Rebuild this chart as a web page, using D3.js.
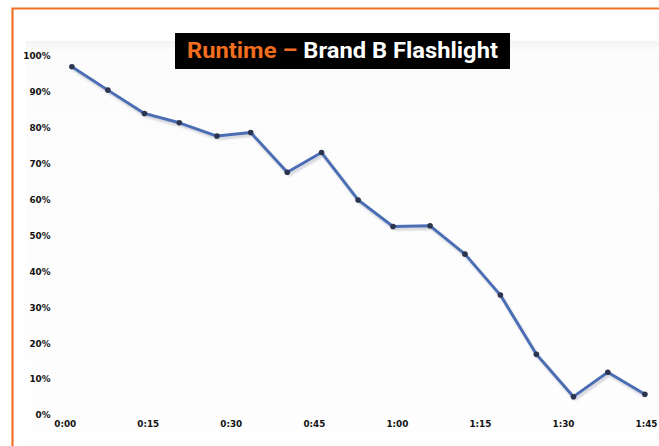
<!DOCTYPE html>
<html>
<head>
<meta charset="utf-8">
<script src="https://cdn.jsdelivr.net/npm/d3@7"></script>
<style>
  html, body { margin: 0; padding: 0; background: #ffffff; }
  svg { display: block; }
</style>
</head>
<body>
<svg id="chart" width="659" height="446"></svg>
<script>
// Battery charge remaining over time for the Brand B flashlight
const sampleMinutes = [1.3, 7.8, 14.4, 20.7, 27.5, 33.6, 40.2, 46.4, 53.0, 59.3, 66.0, 72.3, 78.7, 85.2, 91.9, 98.1, 104.8];
const runtimePercent = [97, 90.5, 84, 81.4, 77.7, 78.7, 67.6, 73.1, 59.9, 52.5, 52.7, 44.8, 33.4, 16.9, 5.1, 11.9, 5.8];
const xTickMinutes = [0, 15, 30, 45, 60, 75, 90, 105];
const xTickLabels = ["0:00", "0:15", "0:30", "0:45", "1:00", "1:15", "1:30", "1:45"];
const yTickValues = [0, 10, 20, 30, 40, 50, 60, 70, 80, 90, 100];
const titleParts = ["Runtime \u2013 ", "Brand B Flashlight"];

const svg = d3.select("#chart");
const W = 659, H = 446;

const x = d3.scaleLinear().domain([0, 105]).range([64.7, 646]);
const y = d3.scaleLinear().domain([0, 100]).range([415, 56]);

const defs = svg.append("defs");
const bgGrad = defs.append("linearGradient").attr("id", "areaFade")
  .attr("x1", 0).attr("y1", 0).attr("x2", 0).attr("y2", 1);
bgGrad.append("stop").attr("offset", "0%").attr("stop-color", "#f3f3f3");
bgGrad.append("stop").attr("offset", "2.5%").attr("stop-color", "#fcfcfc");
bgGrad.append("stop").attr("offset", "100%").attr("stop-color", "#fefefe");
defs.append("filter").attr("id", "soft")
  .append("feGaussianBlur").attr("stdDeviation", 0.8);

// Frame
svg.append("rect").attr("x", 0).attr("y", 0).attr("width", W).attr("height", H).attr("fill", "#ffffff");
svg.append("rect").attr("x", 26).attr("y", 41).attr("width", W - 26).attr("height", H - 41)
  .attr("fill", "url(#areaFade)");
svg.append("path")
  .attr("d", `M12.5,${H} V8.5 H${W}`)
  .attr("fill", "none").attr("stroke", "#f07026").attr("stroke-width", 2.2);

const labelStyle = sel => sel
  .attr("font-family", "DejaVu Sans")
  .attr("font-weight", "bold")
  .attr("font-size", "8.8px")
  .attr("fill", "#111111");

// Y axis labels
const yAxis = d3.axisLeft(y).tickValues(yTickValues).tickSize(0).tickPadding(0)
  .tickFormat(d => d + "%");
const gy = svg.append("g").attr("transform", "translate(50.5,0)").call(yAxis);
gy.select(".domain").remove();
gy.selectAll("text").call(labelStyle);

// X axis labels
const xAxis = d3.axisBottom(x).tickValues(xTickMinutes).tickSize(0).tickPadding(0)
  .tickFormat((d, i) => xTickLabels[i]);
const gx = svg.append("g").attr("transform", "translate(0,421)").call(xAxis);
gx.select(".domain").remove();
gx.selectAll("text").call(labelStyle);

// Runtime line
const pts = sampleMinutes.map((m, i) => [m, runtimePercent[i]]);
const line = d3.line().x(d => x(d[0])).y(d => y(d[1]));

svg.append("path").datum(pts)
  .attr("d", line)
  .attr("transform", "translate(1.5,2.5)")
  .attr("fill", "none")
  .attr("stroke", "#b9bcc4")
  .attr("stroke-width", 2.8)
  .attr("stroke-opacity", 0.7)
  .attr("filter", "url(#soft)");

svg.append("path").datum(pts)
  .attr("d", line)
  .attr("fill", "none")
  .attr("stroke", "#4a6db3")
  .attr("stroke-width", 2.9)
  .attr("stroke-linejoin", "round");

svg.append("g").selectAll("circle").data(pts).join("circle")
  .attr("cx", d => x(d[0]))
  .attr("cy", d => y(d[1]))
  .attr("r", 2.8)
  .attr("fill", "#2c3550");

// Title block
svg.append("rect").attr("x", 175).attr("y", 33).attr("width", 335).attr("height", 36).attr("fill", "#000000");
const title = svg.append("text")
  .attr("x", 187).attr("y", 58)
  .attr("font-family", "Roboto")
  .attr("font-weight", "bold")
  .attr("font-size", "22.5px")
  .attr("textLength", 311)
  .attr("lengthAdjust", "spacingAndGlyphs");
title.append("tspan").attr("fill", "#f26d1f").text(titleParts[0]);
title.append("tspan").attr("fill", "#ffffff").text(titleParts[1]);
</script>
</body>
</html>
